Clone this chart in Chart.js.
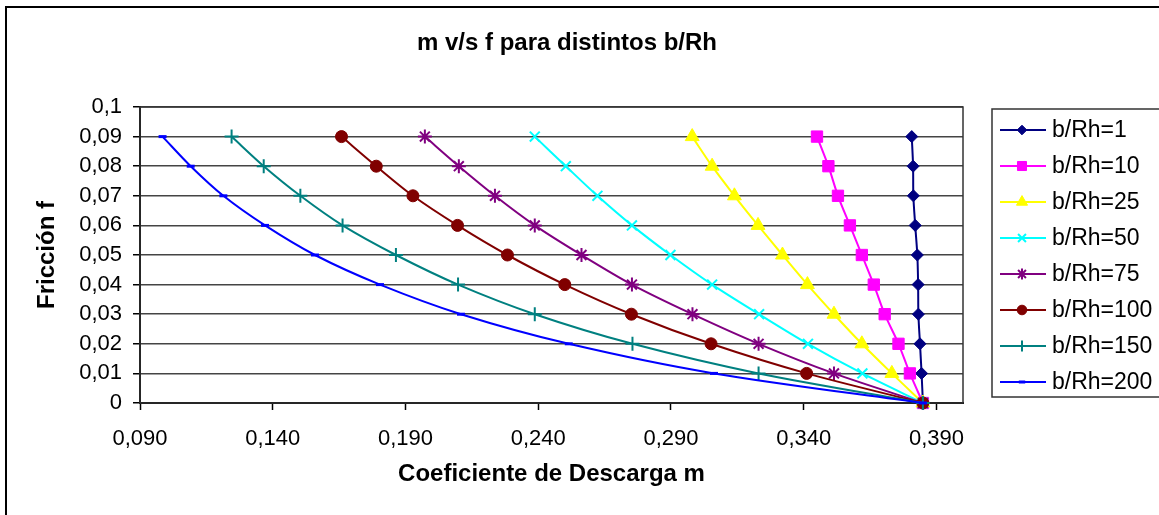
<!DOCTYPE html>
<html>
<head>
<meta charset="utf-8">
<script src="https://cdn.jsdelivr.net/npm/chart.js@4"></script>
<style>
html, body { margin: 0; padding: 0; background: #fff; }
#wrap { width: 1159px; height: 515px; position: relative; }
</style>
</head>
<body>
<div id="wrap"><canvas id="chart" width="1159" height="515"></canvas></div>
<script>
// friction values shared by every series (top to bottom)
const friction = [0.09, 0.08, 0.07, 0.06, 0.05, 0.04, 0.03, 0.02, 0.01, 0];

// discharge coefficient m for each b/Rh
const m1   = [0.3807, 0.3812, 0.3813, 0.3820, 0.3828, 0.3831, 0.3832, 0.3838, 0.3844, 0.3849];
const m10  = [0.3450, 0.3493, 0.3529, 0.3574, 0.3619, 0.3664, 0.3705, 0.3757, 0.3800, 0.3849];
const m25  = [0.2980, 0.3055, 0.3139, 0.3228, 0.3320, 0.3414, 0.3514, 0.3619, 0.3732, 0.3849];
const m50  = [0.2387, 0.2504, 0.2623, 0.2753, 0.2898, 0.3055, 0.3232, 0.3416, 0.3621, 0.3849];
const m75  = [0.1973, 0.2101, 0.2237, 0.2387, 0.2563, 0.2753, 0.2981, 0.3230, 0.3514, 0.3849];
const m100 = [0.1659, 0.1790, 0.1928, 0.2096, 0.2284, 0.2500, 0.2751, 0.3051, 0.3411, 0.3849];
const m150 = [0.1245, 0.1366, 0.1504, 0.1663, 0.1864, 0.2098, 0.2387, 0.2755, 0.3230, 0.3849];
const m200 = [0.0985, 0.1091, 0.1214, 0.1371, 0.1559, 0.1804, 0.2109, 0.2515, 0.3062, 0.3849];

const seriesNames = ["b/Rh=1", "b/Rh=10", "b/Rh=25", "b/Rh=50", "b/Rh=75", "b/Rh=100", "b/Rh=150", "b/Rh=200"];
const seriesValues = [m1, m10, m25, m50, m75, m100, m150, m200];

const xTicks = [0.09, 0.14, 0.19, 0.24, 0.29, 0.34, 0.39];
const xTickLabels = ["0,090", "0,140", "0,190", "0,240", "0,290", "0,340", "0,390"];
const yTicks = [0, 0.01, 0.02, 0.03, 0.04, 0.05, 0.06, 0.07, 0.08, 0.09, 0.1];
const yTickLabels = ["0", "0,01", "0,02", "0,03", "0,04", "0,05", "0,06", "0,07", "0,08", "0,09", "0,1"];

// look of each series
const colors = ["#000080", "#FF00FF", "#FFFF00", "#00FFFF", "#800080", "#800000", "#008080", "#0000FF"];
const markers = ["rectRot", "rect", "triangle", "crossRot", "star", "circle", "cross", "line"];
const markerSizes = [6, 8, 8, 7, 7, 6, 7, 4];

const FONT = "'Liberation Sans', Arial, Helvetica, sans-serif";

const datasets = seriesNames.map((name, i) => ({
    label: name,
    data: seriesValues[i].map((m, j) => ({ x: m, y: friction[j] })),
    borderColor: colors[i],
    backgroundColor: colors[i],
    pointBackgroundColor: colors[i],
    pointBorderColor: colors[i],
    pointStyle: markers[i],
    pointRadius: markerSizes[i],
    pointBorderWidth: (markers[i] === "line" ? 3 : (markers[i].startsWith("cross") || markers[i] === "star") ? 2 : 1),
    borderWidth: 2,
    tension: 0.3,
    showLine: true,
    clip: false,
    order: -i
}));

const decorations = {
    id: "decorations",
    beforeDraw(chart) {
        const ctx = chart.ctx;
        ctx.save();
        ctx.fillStyle = "#fff";
        ctx.fillRect(0, 0, chart.width, chart.height);
        ctx.strokeStyle = "#000";
        ctx.lineWidth = 2;
        ctx.strokeRect(6, 7, chart.width + 20, chart.height + 20);
        ctx.restore();
    },
    beforeDatasetsDraw(chart) {
        const a = chart.chartArea;
        const ctx = chart.ctx;
        ctx.save();
        ctx.strokeStyle = "#333";
        ctx.lineWidth = 1.5;
        ctx.strokeRect(a.left, a.top, a.right - a.left, a.bottom - a.top);
        ctx.restore();
    },
    afterDraw(chart) {
        const ctx = chart.ctx;
        ctx.save();
        // title
        ctx.fillStyle = "#000";
        ctx.font = "bold 24px " + FONT;
        ctx.textAlign = "center";
        ctx.textBaseline = "middle";
        ctx.fillText("m v/s f para distintos b/Rh", 567, 43);

        // legend box
        ctx.strokeStyle = "#333";
        ctx.lineWidth = 1.5;
        ctx.strokeRect(992, 109, 190, 288);
        ctx.font = "23px " + FONT;
        ctx.textAlign = "left";
        chart.data.datasets.forEach((ds, i) => {
            const y = 130 + i * 36;
            ctx.strokeStyle = ds.borderColor;
            ctx.fillStyle = ds.borderColor;
            ctx.lineWidth = 2;
            ctx.beginPath();
            ctx.moveTo(1000, y);
            ctx.lineTo(1046, y);
            ctx.stroke();
            ctx.lineWidth = ds.pointBorderWidth;
            Chart.helpers.drawPoint(ctx, {
                pointStyle: ds.pointStyle,
                radius: ds.pointRadius * 0.8,
                rotation: 0,
                borderWidth: ds.pointBorderWidth
            }, 1022, y);
            ctx.fillStyle = "#000";
            ctx.fillText(ds.label, 1052, y + 1);
        });
        ctx.restore();
    }
};

new Chart(document.getElementById("chart"), {
    type: "scatter",
    data: { datasets: datasets },
    plugins: [decorations],
    options: {
        responsive: false,
        animation: false,
        layout: { padding: { top: 107, right: 196, bottom: 0, left: 0 } },
        plugins: {
            legend: { display: false },
            title: { display: false },
            tooltip: { enabled: false }
        },
        scales: {
            x: {
                type: "linear",
                min: 0.09,
                max: 0.40,
                afterBuildTicks: s => { s.ticks = xTicks.map(v => ({ value: v })); },
                afterFit: s => { s.height = 112; },
                ticks: {
                    autoSkip: false,
                    maxRotation: 0,
                    color: "#000",
                    padding: 16,
                    font: { family: FONT, size: 22 },
                    callback: (v, i) => xTickLabels[i]
                },
                grid: { drawOnChartArea: false, tickLength: 7, tickColor: "#000", tickWidth: 1.5 },
                border: { display: true, color: "#000", width: 2 },
                title: {
                    display: true,
                    text: "Coeficiente de Descarga m",
                    color: "#000",
                    font: { family: FONT, size: 24, weight: "bold" },
                    padding: { top: 0, bottom: 26 }
                }
            },
            y: {
                type: "linear",
                min: 0,
                max: 0.1,
                afterBuildTicks: s => { s.ticks = yTicks.map(v => ({ value: v })); },
                afterFit: s => { s.width = 140; },
                ticks: {
                    autoSkip: false,
                    color: "#000",
                    padding: 11,
                    font: { family: FONT, size: 22 },
                    callback: (v, i) => yTickLabels[i]
                },
                grid: { color: "#444", lineWidth: 1.5, tickLength: 7, tickColor: "#000" },
                border: { display: true, color: "#000", width: 2 },
                title: {
                    display: true,
                    text: "Fricción f",
                    color: "#000",
                    font: { family: FONT, size: 24, weight: "bold" },
                    padding: { top: 33, bottom: 0 }
                }
            }
        }
    }
});
</script>
</body>
</html>
